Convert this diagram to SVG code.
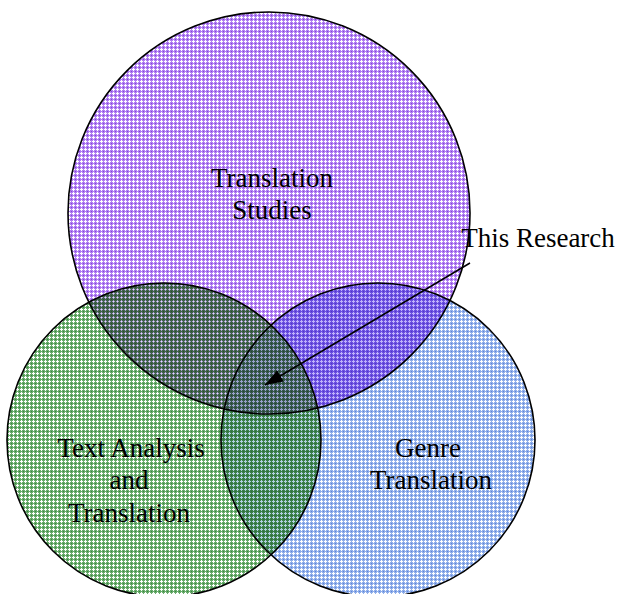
<svg xmlns="http://www.w3.org/2000/svg" width="620" height="594" viewBox="0 0 620 594">
  <style>
    .lbl { font-family: "Liberation Serif", "Times New Roman", serif; font-size: 27px; fill: #000; text-anchor: middle; }
    .outline { fill: none; stroke: #000; stroke-width: 1.6; }
  </style>
  <defs>
    <pattern id="pPurple" patternUnits="userSpaceOnUse" width="4" height="4">
      <rect width="4" height="4" fill="#b07ef2"/>
      <rect x="3" y="3" width="1" height="1" fill="#8244d6"/>
      <rect x="0" y="1" width="3" height="1" fill="#ffffff"/>
      <rect x="1" y="0" width="1" height="3" fill="#ffffff"/>
    </pattern>
    <pattern id="pGreen" patternUnits="userSpaceOnUse" width="4" height="4">
      <rect width="4" height="4" fill="#68ac6b"/>
      <rect x="3" y="3" width="1" height="1" fill="#3a8240"/>
      <rect x="0" y="1" width="3" height="1" fill="#ffffff"/>
      <rect x="1" y="0" width="1" height="3" fill="#ffffff"/>
    </pattern>
    <pattern id="pBlue" patternUnits="userSpaceOnUse" width="4" height="4">
      <rect width="4" height="4" fill="#90afea"/>
      <rect x="3" y="3" width="1" height="1" fill="#5e82d6"/>
      <rect x="0" y="1" width="3" height="1" fill="#ffffff"/>
      <rect x="1" y="0" width="1" height="3" fill="#ffffff"/>
    </pattern>
    <pattern id="pGP" patternUnits="userSpaceOnUse" width="4" height="4">
      <rect width="4" height="4" fill="#3e6446"/>
      <rect x="3" y="3" width="1" height="1" fill="#2a4634"/>
      <rect x="0" y="1" width="3" height="1" fill="#a898d4"/>
      <rect x="1" y="1" width="1" height="1" fill="#e4e4f2"/>
      <rect x="1" y="0" width="1" height="1" fill="#a898d4"/>
      <rect x="1" y="2" width="1" height="1" fill="#a898d4"/>
    </pattern>
    <pattern id="pBP" patternUnits="userSpaceOnUse" width="4" height="4">
      <rect width="4" height="4" fill="#6a4ee0"/>
      <rect x="3" y="3" width="1" height="1" fill="#5034c6"/>
      <rect x="0" y="1" width="3" height="1" fill="#c0b2fa"/>
      <rect x="1" y="0" width="1" height="3" fill="#c0b2fa"/>
    </pattern>
    <pattern id="pGB" patternUnits="userSpaceOnUse" width="4" height="4">
      <rect width="4" height="4" fill="#3a8048"/>
      <rect x="3" y="3" width="1" height="1" fill="#2c6842"/>
      <rect x="0" y="1" width="3" height="1" fill="#b2d0e2"/>
      <rect x="1" y="0" width="1" height="3" fill="#b2d0e2"/>
    </pattern>
    <pattern id="pGPB" patternUnits="userSpaceOnUse" width="4" height="4">
      <rect width="4" height="4" fill="#36584a"/>
      <rect x="3" y="3" width="1" height="1" fill="#244032"/>
      <rect x="0" y="1" width="3" height="1" fill="#9aa0cc"/>
      <rect x="1" y="0" width="1" height="3" fill="#9aa0cc"/>
    </pattern>
    <clipPath id="clipP"><circle cx="269" cy="213" r="201"/></clipPath>
    <clipPath id="clipB"><circle cx="378" cy="440" r="157"/></clipPath>
    <marker id="arrowHead" markerUnits="userSpaceOnUse" markerWidth="20" markerHeight="14" refX="18" refY="6.5" orient="auto">
      <path d="M0,0 L18,6.5 L0,13 Z" fill="#000"/>
    </marker>
  </defs>

  <g id="genre-translation">
    <circle cx="378" cy="440" r="157" fill="url(#pBlue)"/>
  </g>
  <g id="translation-studies">
    <circle cx="269" cy="213" r="201" fill="url(#pPurple)"/>
  </g>
  <g id="text-analysis">
    <circle cx="164" cy="440" r="157" fill="url(#pGreen)"/>
  </g>

  <g id="overlaps">
    <g clip-path="url(#clipP)"><circle cx="378" cy="440" r="157" fill="url(#pBP)"/></g>
    <g clip-path="url(#clipP)"><circle cx="164" cy="440" r="157" fill="url(#pGP)"/></g>
    <g clip-path="url(#clipB)"><circle cx="164" cy="440" r="157" fill="url(#pGB)"/></g>
    <g clip-path="url(#clipP)"><g clip-path="url(#clipB)"><circle cx="164" cy="440" r="157" fill="url(#pGPB)"/></g></g>
  </g>

  <g id="outlines">
    <circle class="outline" cx="378" cy="440" r="157"/>
    <circle class="outline" cx="269" cy="213" r="201"/>
    <circle class="outline" cx="164" cy="440" r="157"/>
  </g>

  <g id="labels">
    <text class="lbl" x="272" y="187">Translation</text>
    <text class="lbl" x="272" y="219">Studies</text>
    <text class="lbl" x="131" y="457">Text Analysis</text>
    <text class="lbl" x="129" y="489">and</text>
    <text class="lbl" x="129" y="522">Translation</text>
    <text class="lbl" x="428" y="457">Genre</text>
    <text class="lbl" x="431" y="489">Translation</text>
  </g>

  <g id="this-research">
    <text class="lbl" x="538" y="247">This Research</text>
  </g>

  <g id="connectors">
    <line x1="470" y1="263" x2="265" y2="385" stroke="#000" stroke-width="1.5" marker-end="url(#arrowHead)"/>
  </g>
</svg>
